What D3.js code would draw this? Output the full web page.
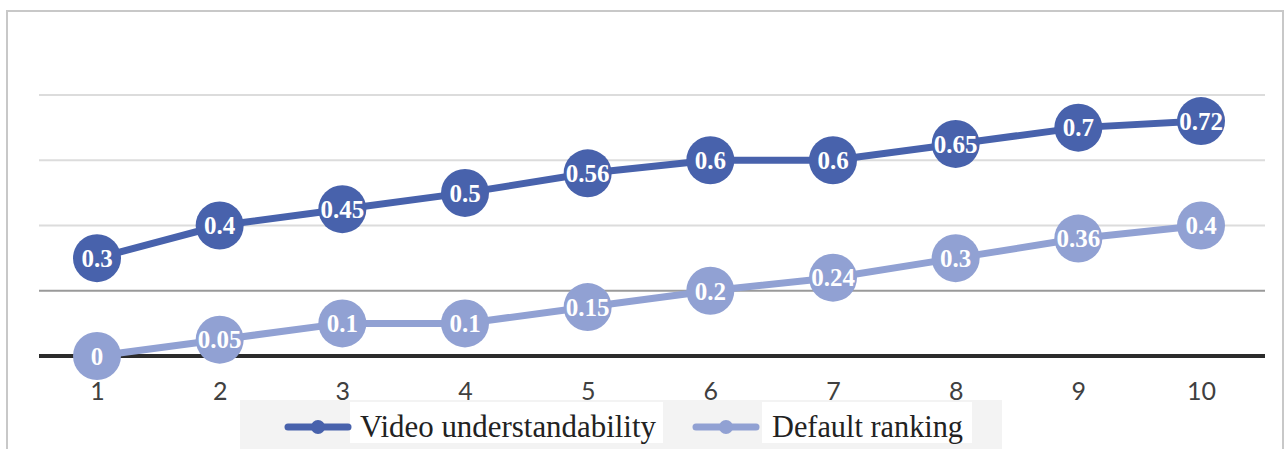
<!DOCTYPE html>
<html>
<head>
<meta charset="utf-8">
<script src="https://cdn.jsdelivr.net/npm/d3@7/dist/d3.min.js"></script>
<style>
  body { margin: 0; background: #fff; }
  svg { display: block; }
</style>
</head>
<body>
<div id="chart"></div>
<script>
// chart data
const categories = [1, 2, 3, 4, 5, 6, 7, 8, 9, 10]
const videoUnderstandability = [0.3, 0.4, 0.45, 0.5, 0.56, 0.6, 0.6, 0.65, 0.7, 0.72]
const defaultRanking = [0, 0.05, 0.1, 0.1, 0.15, 0.2, 0.24, 0.3, 0.36, 0.4]
const gridTicks = [0.2, 0.4, 0.6, 0.8]
const seriesNames = ['Video understandability', 'Default ranking']

const WIDTH = 1287, HEIGHT = 449
const COLORS = ['#4862ac', '#91a1d3']

const svg = d3.select('#chart')
  .append('svg')
    .attr('width', WIDTH)
    .attr('height', HEIGHT)

// outer frame
svg.append('rect')
  .attr('x', 7)
  .attr('y', 11)
  .attr('width', 1276)
  .attr('height', 460)
  .attr('fill', 'none')
  .attr('stroke', '#c8c8c8')
  .attr('stroke-width', 2)

const x = d3.scalePoint()
  .domain(categories)
  .range([97, 1201])

const y = d3.scaleLinear()
  .domain([0, 0.8])
  .range([356, 95])

// grid lines
svg.append('g')
  .selectAll('line')
  .data(gridTicks)
  .join('line')
    .attr('x1', 39)
    .attr('x2', 1265)
    .attr('y1', d => y(d))
    .attr('y2', d => y(d))
    .attr('stroke', d => d === 0.2 ? '#9a9a9a' : '#dcdcdc')
    .attr('stroke-width', 2)

// baseline
svg.append('line')
  .attr('x1', 39)
  .attr('x2', 1265)
  .attr('y1', y(0))
  .attr('y2', y(0))
  .attr('stroke', '#2b2b2b')
  .attr('stroke-width', 4)

// x axis labels
const xAxis = svg.append('g')
  .attr('transform', `translate(0, ${y(0) + 26})`)
  .call(d3.axisBottom(x).tickSize(0).tickPadding(0))
xAxis.select('.domain').remove()
xAxis.selectAll('text')
  .attr('font-family', 'Lato, "Open Sans", sans-serif')
  .attr('font-size', 25)
  .attr('fill', '#404040')

const series = [videoUnderstandability, defaultRanking]

const line = d3.line()
  .x((d, i) => x(categories[i]))
  .y(d => y(d))

series.slice().reverse().forEach((values, k) => {
  const idx = series.length - 1 - k
  const g = svg.append('g')
  g.append('path')
    .datum(values)
    .attr('d', line)
    .attr('fill', 'none')
    .attr('stroke', COLORS[idx])
    .attr('stroke-width', 7)

  g.selectAll('circle')
    .data(values)
    .join('circle')
      .attr('cx', (d, i) => x(categories[i]))
      .attr('cy', d => y(d))
      .attr('r', 24)
      .attr('fill', COLORS[idx])

  g.selectAll('text')
    .data(values)
    .join('text')
      .attr('x', (d, i) => x(categories[i]))
      .attr('y', d => y(d))
      .attr('dy', '0.35em')
      .attr('text-anchor', 'middle')
      .attr('font-family', '"Liberation Serif", "Times New Roman", serif')
      .attr('font-weight', 'bold')
      .attr('font-size', 25)
      .attr('fill', '#fff')
      .text(d => d)
})

// legend
svg.append('rect')
  .attr('x', 240)
  .attr('y', 400)
  .attr('width', 762)
  .attr('height', 60)
  .attr('fill', '#f3f3f3')

const legendItems = [
  {lx: 288, box: [350, 313], tx: 360, len: 296},
  {lx: 696, box: [762, 210], tx: 772, len: 191}
]

legendItems.forEach((item, i) => {
  svg.append('rect')
    .attr('x', item.box[0])
    .attr('y', 402)
    .attr('width', item.box[1])
    .attr('height', 41)
    .attr('fill', '#fff')
  svg.append('line')
    .attr('x1', item.lx)
    .attr('x2', item.lx + 60)
    .attr('y1', 427)
    .attr('y2', 427)
    .attr('stroke', COLORS[i])
    .attr('stroke-width', 7)
    .attr('stroke-linecap', 'round')
  svg.append('circle')
    .attr('cx', item.lx + 30)
    .attr('cy', 427)
    .attr('r', 7)
    .attr('fill', COLORS[i])
  svg.append('text')
    .attr('x', item.tx)
    .attr('y', 437)
    .attr('font-family', '"Liberation Serif", "Times New Roman", serif')
    .attr('font-size', 32)
    .attr('textLength', item.len)
    .attr('lengthAdjust', 'spacingAndGlyphs')
    .attr('fill', '#222')
    .text(seriesNames[i])
})
</script>
</body>
</html>
